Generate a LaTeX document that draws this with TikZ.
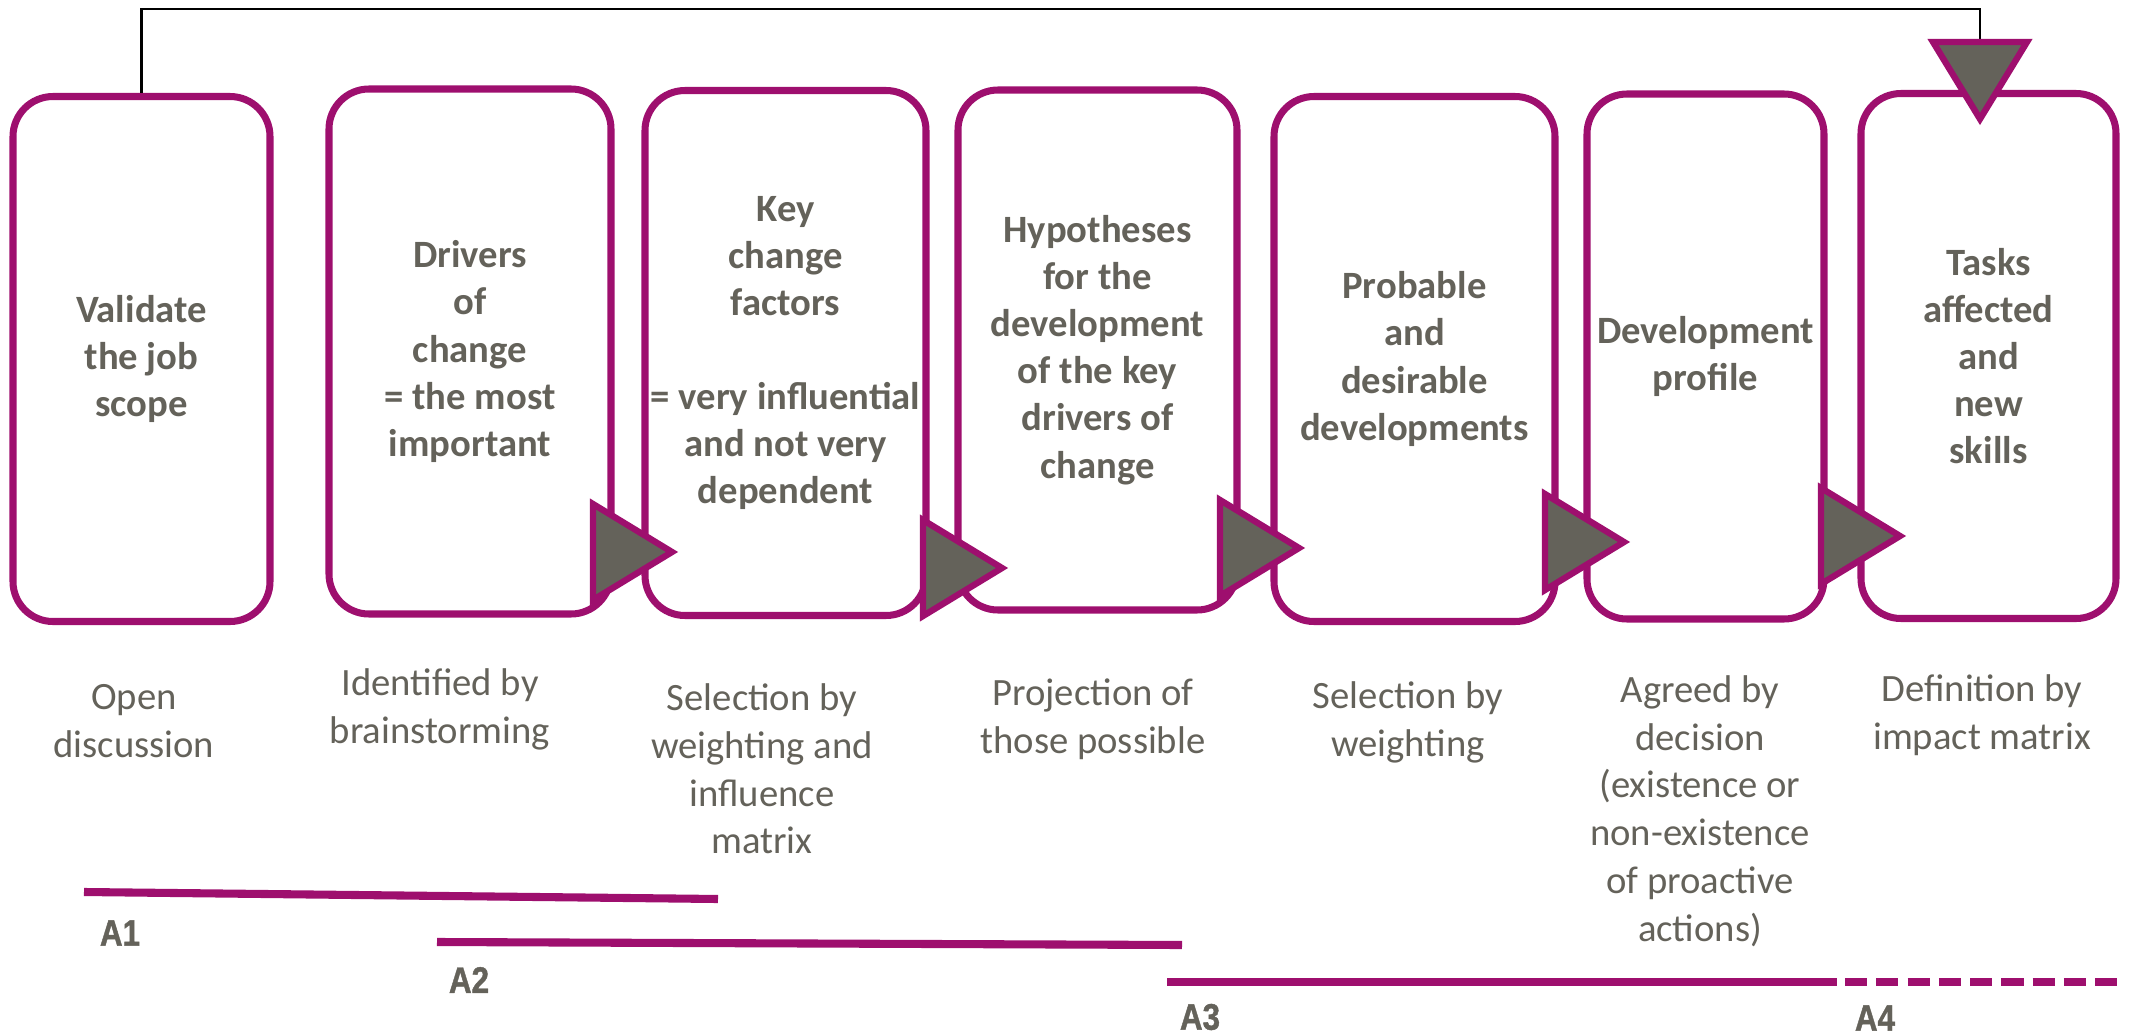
\documentclass[tikz,border=0pt]{standalone}
\usepackage{fontspec}
\setmainfont{Carlito}
\newfontfamily\labelfont{Liberation Sans}[FakeStretch=0.85, BoldFeatures={FakeBold=1.2}]
\definecolor{plum}{RGB}{158,15,110}
\definecolor{slate}{RGB}{100,98,90}

\begin{document}
\begin{tikzpicture}[
  stage/.style={draw=plum, line width=2pt, rounded corners=0.4cm, minimum height=5.25cm, inner sep=0pt, align=center, text=slate, font=\bfseries\fontsize{11}{13.4}\selectfont},
  method/.style={align=center, text=slate, font=\fontsize{11}{13.6}\selectfont},
  phase/.style={text=slate, font=\labelfont\bfseries\fontsize{10.5}{12}\selectfont},
  pointer/.style={draw=plum, fill=slate, line width=1.8pt},
  span/.style={draw=plum, line width=2.3pt}
]
\useasboundingbox (0,0) rectangle (21.29,10.35);

\path(1.415,6.76) node[stage, minimum width=2.57cm](Validate){Validate\\the job\\scope} (4.70,6.835) node[stage, minimum width=2.82cm](Drivers){Drivers\\of\\change\\= the most\\important} (7.855,6.82) node[stage, minimum width=2.81cm](KeyFactors){Key\\change\\factors\\[13.4pt]= very influential\\and not very\\dependent} (10.975,6.85) node[stage, minimum width=2.79cm, minimum height=5.20cm](Hypotheses){Hypotheses\\for the\\development\\of the key\\drivers of\\change} (14.145,6.76) node[stage, minimum width=2.81cm](Probable){Probable\\and\\desirable\\developments} (17.055,6.785) node[stage, minimum width=2.37cm](Profile){Development\\profile} (19.885,6.79) node[stage, minimum width=2.55cm](Tasks){Tasks\\affected\\and\\new\\skills};

\draw[pointer] (5.93,5.31) -- ++(0.79,-0.48) -- ++(-0.79,-0.48) -- cycle;
\draw[pointer] (9.23,5.15) -- ++(0.79,-0.48) -- ++(-0.79,-0.48) -- cycle;
\draw[pointer] (12.20,5.35) -- ++(0.79,-0.48) -- ++(-0.79,-0.48) -- cycle;
\draw[pointer] (15.45,5.41) -- ++(0.79,-0.48) -- ++(-0.79,-0.48) -- cycle;
\draw[pointer] (18.21,5.47) -- ++(0.79,-0.48) -- ++(-0.79,-0.48) -- cycle;

\coordinate (drop) at (19.80,9.93);
\draw[line width=0.8pt] (Validate.north) -- (Validate.north |- 0,10.26) -| (drop);
\draw[pointer] (drop) ++(-0.47,0) -- ++(0.94,0) -- ++(-0.47,-0.77) -- cycle;

\path(1.34,3.14) node[method](Open){Open\\discussion} (4.40,3.26) node[method](Identified){Identified by\\brainstorming} (7.62,2.66) node[method](Selection){Selection by\\weighting and\\influence\\matrix} (10.93,3.16) node[method](Projection){Projection of\\those possible} (14.08,3.13) node[method](Weighting){Selection by\\weighting} (17.00,2.24) node[method](Agreed){Agreed by\\decision\\(existence or\\non-existence\\of proactive\\actions)} (19.82,3.20) node[method](Definition){Definition by\\impact matrix};

\draw[span] (0.84,1.43) -- (7.18,1.36);
\draw[span] (4.37,0.93) -- (11.82,0.90);
\draw[span] (11.67,0.53) -- (18.37,0.53);
\draw[span, dash pattern=on 6.3pt off 2.6pt] (18.45,0.53) -- (21.25,0.53);

\path(1.20,1.02) node[phase](A1){A1} (4.69,0.55) node[phase](A2){A2} (12.00,0.18) node[phase](A3){A3} (18.75,0.17) node[phase](A4){A4};
\end{tikzpicture}
\end{document}
